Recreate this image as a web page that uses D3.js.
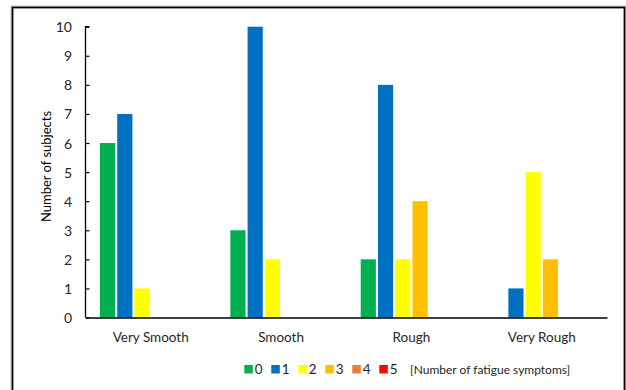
<!DOCTYPE html>
<html><head><meta charset="utf-8">
<script src="https://cdn.jsdelivr.net/npm/d3@7"></script>
<style>body{margin:0;background:#fff}svg{display:block;font-family:Lato,"Liberation Sans",Arial,sans-serif}</style>
</head><body>
<svg id="c" width="626" height="390"></svg>
<script>
const categories = ["Very Smooth","Smooth","Rough","Very Rough"];
const seriesNames = ["0","1","2","3","4","5"];
const colors = ["#00B050","#0070C0","#FFFF00","#FFC000","#ED7D31","#FF0000"];
const s0 = [6,3,2,0];
const s1 = [7,10,8,1];
const s2 = [1,2,2,5];
const s3 = [0,0,4,2];
const s4 = [0,0,0,0];
const s5 = [0,0,0,0];
const yTicks = [0,1,2,3,4,5,6,7,8,9,10];
const legendTitle = "[Number of fatigue symptoms]";
const yTitle = "Number of subjects";

const series = [s0,s1,s2,s3,s4,s5];
const svg = d3.select("#c");

svg.append("rect").attr("x",12).attr("y",7).attr("width",613).attr("height",400)
  .attr("fill","#fff").attr("stroke","#bbb").attr("stroke-width",3);
svg.append("rect").attr("x",12.5).attr("y",7.5).attr("width",612).attr("height",400)
  .attr("fill","none").attr("stroke","#000").attr("stroke-width",1.6);

const L=85.5, R=607, T=26.7, B=317.5;
const x0 = d3.scaleBand().domain(categories).range([L,R]).padding(0);
const groupW = 103.5;
const x1 = d3.scaleBand().domain(seriesNames)
  .range([(x0.bandwidth()-groupW)/2,(x0.bandwidth()+groupW)/2])
  .paddingInner(0.12).paddingOuter(0.06);
const y = d3.scaleLinear().domain([0,10]).range([B,T]);

const g = svg.append("g");
series.forEach((vals,si)=>{
  g.selectAll(null).data(vals.map((v,ci)=>({v,c:categories[ci]})).filter(d=>d.v>0))
   .enter().append("rect")
   .attr("x",d=>x0(d.c)+x1(seriesNames[si]))
   .attr("y",d=>y(d.v))
   .attr("width",x1.bandwidth())
   .attr("height",d=>y(0)-y(d.v))
   .attr("fill",colors[si]);
});

// y axis
const ya = svg.append("g").attr("transform",`translate(${L},0)`)
  .call(d3.axisRight(y).tickValues(yTicks).tickSize(4).tickFormat(d3.format("d")));
ya.select(".domain").attr("stroke","#000").attr("stroke-width",1.3).attr("d",`M4,${T}H0V${B}`);
ya.selectAll(".tick line").attr("stroke","#000").attr("stroke-width",1.2);
ya.selectAll(".tick text").attr("x",-13.5).attr("text-anchor","end")
  .attr("font-size",14).attr("fill","#262626").attr("dy","0.36em");

// x axis
const xa = svg.append("g").attr("transform",`translate(0,${B})`)
  .call(d3.axisBottom(x0).tickSize(0));
xa.select(".domain").attr("stroke","#000").attr("stroke-width",1.3);
xa.selectAll(".tick text").attr("font-size",13.5).attr("fill","#262626").attr("dy","0").attr("y",24);
xa.attr("font-family",null);
ya.attr("font-family",null);

// y title
svg.append("text").attr("transform",`translate(50.5,166.5) rotate(-90)`)
  .attr("text-anchor","middle").attr("font-size",13).attr("fill","#000")
  .text(yTitle);

// legend
const lg = svg.append("g");
seriesNames.forEach((n,i)=>{
  const lx = 244.3 + i*27;
  lg.append("rect").attr("x",lx).attr("y",365).attr("width",8.5).attr("height",8.5).attr("fill",colors[i]);
  lg.append("text").attr("x",lx+10.5).attr("y",374).attr("font-size",13.5).attr("fill","#262626").text(n);
});
lg.append("text").attr("x",410).attr("y",373.5).attr("font-size",12).attr("fill","#262626").text(legendTitle);
</script>
</body></html>
